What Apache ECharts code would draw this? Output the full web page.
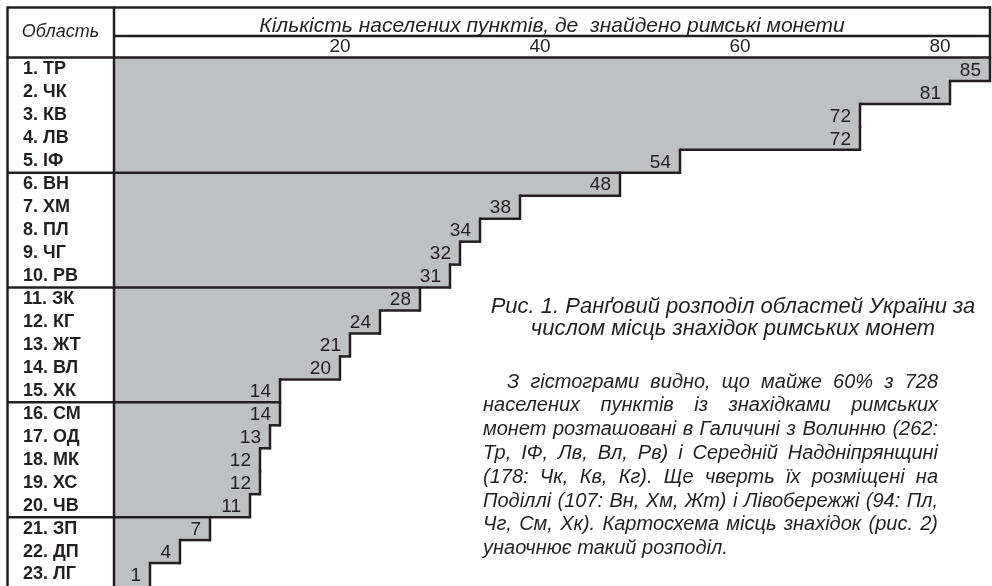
<!DOCTYPE html>
<html><head><meta charset="utf-8">
<script src="https://cdn.jsdelivr.net/npm/echarts@6/dist/echarts.min.js"></script>
<style>html,body{margin:0;padding:0;background:#fff}#c{width:992px;height:586px}</style>
</head><body><div id="c"></div>
<script>
// ---- data ----
const categories = ['1. ТР','2. ЧК','3. КВ','4. ЛВ','5. ІФ','6. ВН','7. ХМ','8. ПЛ','9. ЧГ','10. РВ','11. ЗК','12. КГ','13. ЖТ','14. ВЛ','15. ХК','16. СМ','17. ОД','18. МК','19. ХС','20. ЧВ','21. ЗП','22. ДП','23. ЛГ'];
const values = [85,81,72,72,54,48,38,34,32,31,28,24,21,20,14,14,13,12,12,11,7,4,1];
const xTickValues = [20,40,60,80];
const groupSize = 5;
const headerRegion = 'Область';
const headerTitle = 'Кількість населених пунктів, де  знайдено римські монети';
const captionLines = ['Рис. 1. Ранґовий розподіл областей України за','числом місць знахідок римських монет'];
const paragraphLines = [
  'З гістограми видно, що майже 60% з 728',
  'населених пунктів із знахідками римських',
  'монет розташовані в Галичині з Волинню (262:',
  'Тр, ІФ, Лв, Вл, Рв) і Середній Наддніпрянщині',
  '(178: Чк, Кв, Кг). Ще чверть їх розміщені на',
  'Поділлі (107: Вн, Хм, Жт) і Лівобережжі (94: Пл,',
  'Чг, См, Хк). Картосхема місць знахідок (рис. 2)',
  'унаочнює такий розподіл.'
];

// ---- style ----
const INK = '#231f20', GRAY = '#bfc0c2', LW = 2.5;
const X_MIN = -2.6, X_MAX = 85;
const LABEL_COL = 107;
const SANS = '"Liberation Sans", Arial, sans-serif';
const itFont = (px) => 'italic ' + px + 'px ' + SANS;
const PFONT = itFont(20);

const chart = echarts.init(document.getElementById('c'), null, {renderer: 'canvas'});

function renderItem(params, api) {
  const i = params.dataIndex;
  const v = api.value(0);
  const end = api.coord([v, i]);
  const start = api.coord([X_MIN, i]);
  const h = api.size([0, 1])[1];
  const top = end[1] - h / 2, bot = end[1] + h / 2;
  const children = [
    {type: 'rect', z2: 0, shape: {x: start[0], y: Math.floor(top), width: end[0] - start[0], height: Math.ceil(h) + 1}, style: {fill: GRAY}},
    {type: 'line', z2: 10, shape: {x1: end[0], y1: top - LW / 2, x2: end[0], y2: bot + LW / 2}, style: {stroke: INK, lineWidth: LW}},
    {type: 'text', z2: 20, style: {text: String(v), x: end[0] - 9, y: end[1] + 1, align: 'right', verticalAlign: 'middle', textAlign: 'right', textVerticalAlign: 'middle', fill: INK, font: '19px ' + SANS}}
  ];
  if (i > 0) {
    const prevX = api.coord([values[i - 1], i])[0];
    if (i % groupSize === 0) {
      children.push({type: 'line', z2: 10, shape: {x1: start[0] - LABEL_COL, y1: top, x2: prevX, y2: top}, style: {stroke: INK, lineWidth: LW}});
    } else if (prevX > end[0]) {
      children.push({type: 'line', z2: 10, shape: {x1: end[0], y1: top, x2: prevX, y2: top}, style: {stroke: INK, lineWidth: LW}});
    }
  }
  return {type: 'group', children};
}

// justified paragraph via measured word widths
const mctx = document.createElement('canvas').getContext('2d');
mctx.font = PFONT;
function paragraphGraphics(lines, x0, x1, indent, y0, step) {
  const out = [];
  lines.forEach((line, li) => {
    const y = y0 + li * step;
    const left = li === 0 ? x0 + indent : x0;
    const words = line.split(' ');
    const isLast = li === lines.length - 1;
    const widths = words.map(w => mctx.measureText(w).width);
    const total = widths.reduce((a, b) => a + b, 0);
    const spaceW = mctx.measureText(' ').width;
    let gap = isLast ? spaceW : (x1 - left - total) / (words.length - 1);
    let x = left;
    words.forEach((w, k) => {
      out.push({type: 'text', x: x, y: y, z: 50, style: {text: w, font: PFONT, fill: INK, align: 'left', verticalAlign: 'middle', textAlign: 'left', textVerticalAlign: 'middle'}});
      x += widths[k] + gap;
    });
  });
  return out;
}

function hline(x1, x2, y) { return {type: 'line', z: 100, shape: {x1, y1: y, x2, y2: y}, style: {stroke: INK, lineWidth: LW}}; }
function vline(x, y1, y2) { return {type: 'line', z: 100, shape: {x1: x, y1, x2: x, y2}, style: {stroke: INK, lineWidth: LW}}; }
function ctext(t, x, y, px) { return {type: 'text', x, y, z: 50, style: {text: t, font: itFont(px), fill: INK, align: 'center', verticalAlign: 'middle', textAlign: 'center', textVerticalAlign: 'middle'}}; }

const graphics = [
  hline(7, 991, 7.5),
  vline(7.5, 6.5, 586),
  vline(990, 6.5, 58),
  vline(114, 6.5, 586),
  hline(114, 991, 36),
  hline(6.5, 991, 57.5),
  ctext(headerRegion, 60.5, 32, 18),
  ctext(headerTitle, 552, 26, 21),
  ...captionLines.map((t, k) => ctext(t, 733, 307 + k * 22, 22)),
  ...paragraphGraphics(paragraphLines, 483, 938, 24, 382, 23.8)
];

chart.setOption({
  animation: false,
  backgroundColor: '#fff',
  grid: {left: 114, right: 2, top: 58, bottom: 0, containLabel: false},
  xAxis: {
    type: 'value', position: 'top', min: X_MIN, max: X_MAX,
    axisLine: {show: false}, axisTick: {show: false}, splitLine: {show: false},
    axisLabel: {customValues: xTickValues, margin: 2, fontSize: 19, fontFamily: SANS, color: INK}
  },
  yAxis: {
    type: 'category', inverse: true, data: categories,
    axisLine: {show: false}, axisTick: {show: false}, splitLine: {show: false},
    axisLabel: {interval: 0, align: 'left', margin: 91, fontSize: 18, fontWeight: 'bold', fontFamily: SANS, color: INK}
  },
  series: [{
    type: 'custom', renderItem: renderItem, clip: false,
    encode: {x: 0, y: 1},
    data: values.map((v, i) => [v, i])
  }],
  graphic: graphics
});
</script>
</body></html>
